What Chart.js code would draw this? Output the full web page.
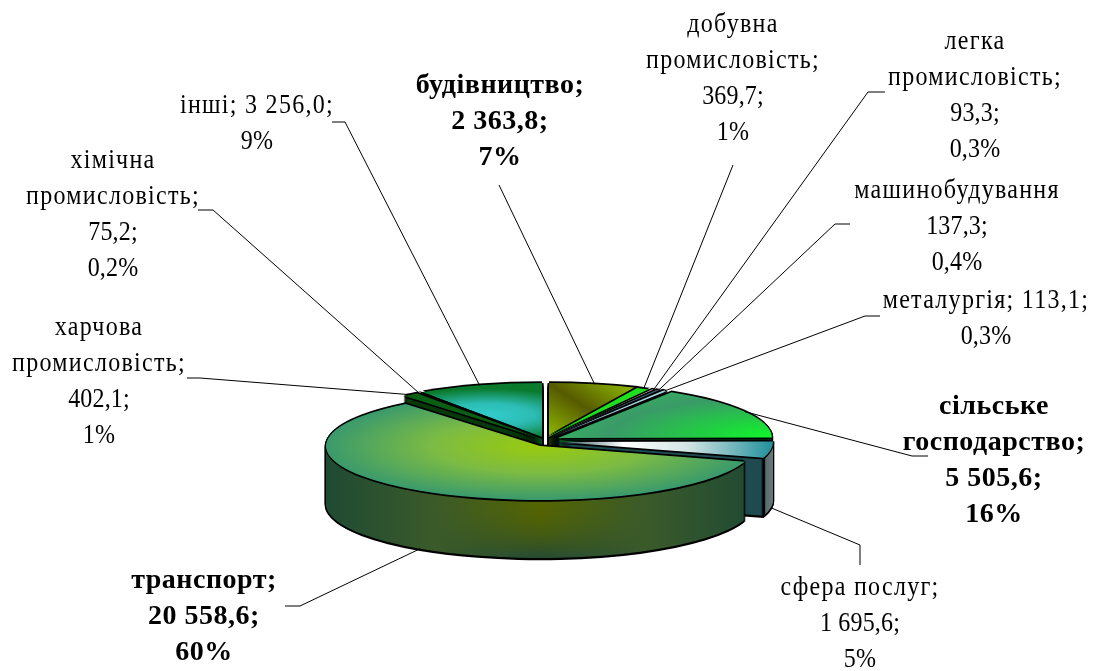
<!DOCTYPE html>
<html lang="uk">
<head>
    <meta charset="UTF-8">
    <title>Структура за галузями</title>
    <script src="https://cdn.jsdelivr.net/npm/chart.js"></script>
    <style>
        html, body { margin: 0; background: #fff; }
        #pie { display: block; }
    </style>
</head>
<body>
    <canvas id="pie" width="1097" height="671"></canvas>

    <script>
        // Data, clockwise from 12 o'clock
        const categories = ['будівництво', 'добувна промисловість', 'легка промисловість', 'машинобудування', 'металургія',
            'сільське господарство', 'сфера послуг', 'транспорт', 'харчова промисловість', 'хімічна промисловість', 'інші'];
        const values = [2363.8, 369.7, 93.3, 137.3, 113.1, 5505.6, 1695.6, 20558.6, 402.1, 75.2, 3256.0];
        const valueLabels = ['2 363,8', '369,7', '93,3', '137,3', '113,1', '5 505,6', '1 695,6', '20 558,6', '402,1', '75,2', '3 256,0'];
        const percentLabels = ['7%', '1%', '0,3%', '0,4%', '0,3%', '16%', '5%', '60%', '1%', '0,2%', '9%'];

        // How far each slice is pulled out of the pie, in screen px
        const explodeX = [9, 8, 10, 11, 13, 18, 19, 0, -1, 0, 2];
        const explodeY = [-9, -9, -9, -9, -9, -8, -4, 0, -8, -8, -9];
        const drawOrder = [10, 0, 9, 8, 1, 2, 3, 4, 5, 6, 7];

        const squash = 0.2523;   // ellipse height / width
        const depth = 58;        // wall height
        const lineStep = 36;

        // Label blocks: how the name wraps, centre x, first line y, elbow of the leader line
        const labelBlocks = [
            { name: ['будівництво;'], x: 500, y: 86, bold: true, from: [499, 185], elbow: null },
            { name: ['добувна', 'промисловість;'], x: 733, y: 25, from: [733, 165], elbow: null },
            { name: ['легка', 'промисловість;'], x: 975, y: 42, from: [885, 92], elbow: [868, 92] },
            { name: ['машинобудування'], x: 957, y: 191, from: [850, 224], elbow: [835, 224] },
            { name: ['металургія; 113,1;'], x: 986, y: 301, inline: true, from: [880, 316], elbow: [865, 316] },
            { name: ['сільське', 'господарство;'], x: 994, y: 407, bold: true, from: [928, 456], elbow: [912, 456] },
            { name: ['сфера послуг;'], x: 860, y: 588, from: [860, 565], elbow: [860, 545], wall: true },
            { name: ['транспорт;'], x: 204, y: 581, bold: true, from: [285, 606], elbow: [300, 606], wall: true },
            { name: ['харчова', 'промисловість;'], x: 99, y: 328, from: [187, 378], elbow: [200, 378] },
            { name: ['хімічна', 'промисловість;'], x: 113, y: 161, from: [198, 210], elbow: [213, 210] },
            { name: ['інші; 3 256,0;'], x: 257, y: 106, inline: true, from: [332, 122], elbow: [345, 122] }
        ];

        function linear(ctx, x0, y0, x1, y1, stops) {
            const g = ctx.createLinearGradient(x0, y0, x1, y1);
            stops.forEach(s => g.addColorStop(s[0], s[1]));
            return g;
        }

        function radial(ctx, x, y, r, stops) {
            const g = ctx.createRadialGradient(x, y, 0, x, y, r);
            stops.forEach(s => g.addColorStop(s[0], s[1]));
            return g;
        }

        // Top face fill of a slice, in the un-squashed circle coordinates
        function faceFill(ctx, i, cx, cy) {
            switch (i) {
                case 0: return linear(ctx, cx, cy, cx + 143, cy - 56, [[0, '#90ba00'], [0.5, '#565a00'], [1, '#90ba00']]);
                case 1: return '#1fe020';
                case 2: return '#f4ecc4';
                case 3: return '#3a5a70';
                case 4: return '#a4d4dc';
                case 5: return radial(ctx, cx + 214, cy, 250, [[0, '#0ff82a'], [0.3, '#22cc44'], [0.65, '#3a9a68'], [1, '#33b85c']]);
                case 6: return linear(ctx, cx, cy, cx + 214, cy, [[0, '#204a50'], [0.3, '#ffffff'], [0.6, '#d4e4e4'], [1, '#20909a']]);
                case 7: return radial(ctx, cx, cy, 214, [[0, '#9acb0c'], [0.5, '#7cbb44'], [1, '#3a9a6c']]);
                case 8: return '#0a6012';
                case 9: return '#0d4a12';
                default: return radial(ctx, cx - 55, cy - 87, 105, [[0, '#33cccc'], [0.45, '#2cbcb4'], [1, '#0a7a2c']]);
            }
        }

        // Side wall fill, t goes 0..1 from the top of the wall to the bottom
        function wallFill(ctx, i, cx, t) {
            switch (i) {
                case 6: return linear(ctx, cx + 202, 0, cx + 236, 0, [[0, '#1f4a50'], [0.06, '#000'], [0.1, '#000'], [0.14, '#5a6c6c'], [0.6, '#76888a'], [1, '#4a5a5c']]);
                case 7: {
                    const r = Math.round(0x55 - t * t * 0x30);
                    const g = Math.round(0x64 - t * t * 0x1a);
                    const b = Math.round(t * t * 0x33);
                    const mid = 'rgb(' + r + ',' + g + ',' + b + ')';
                    return linear(ctx, cx - 214, 0, cx + 214, 0, [[0, '#1f4a33'], [0.25, '#3a5a2a'], [0.5, mid], [0.75, '#3a5a2a'], [1, '#1f4a33']]);
                }
                case 0: return '#3c4400';
                case 3: case 4: return '#300040';
                case 5: return '#0c5a20';
                case 8: case 9: return '#083a0c';
                case 10: return '#064a18';
                default: return '#0a3a10';
            }
        }

        function drawArc(ctx, arc, fill, dx, dy) {
            const saved = arc.options;
            arc.options = Object.assign({}, saved, { backgroundColor: fill, borderWidth: 0 });
            ctx.save();
            ctx.translate(dx, dy + arc.y);
            ctx.scale(1, squash);
            ctx.translate(0, -arc.y);
            arc.draw(ctx);
            ctx.restore();
            arc.options = saved;
        }

        const pie3d = {
            id: 'pie3d',
            beforeDatasetDraw(chart, args) {
                const ctx = chart.ctx;
                const arcs = args.meta.data;
                drawOrder.forEach(i => {
                    const arc = arcs[i];
                    const dx = explodeX[i], dy = explodeY[i];
                    // black outline of the wall
                    for (let d = depth + 1; d >= 0; d--) {
                        drawArc(ctx, arc, '#000', dx - 1.3, dy + d);
                        drawArc(ctx, arc, '#000', dx + 1.3, dy + d);
                    }
                    drawArc(ctx, arc, '#000', dx, dy + depth + 2.2);
                    // wall
                    for (let d = depth; d >= 1; d--) {
                        drawArc(ctx, arc, wallFill(ctx, i, arc.x, d / depth), dx, dy + d);
                    }
                    // outline and top face
                    drawArc(ctx, arc, '#000', dx, dy - 1.8);
                    drawArc(ctx, arc, '#000', dx, dy + 1.8);
                    drawArc(ctx, arc, '#000', dx - 1.3, dy);
                    drawArc(ctx, arc, '#000', dx + 1.3, dy);
                    drawArc(ctx, arc, faceFill(ctx, i, arc.x, arc.y), dx, dy);
                });
                return false;   // slices are done, skip the default draw
            },
            afterDraw(chart) {
                const ctx = chart.ctx;
                const arcs = chart.getDatasetMeta(0).data;
                labelBlocks.forEach((b, i) => {
                    // leader line ends on the rim, at the middle of the slice
                    const arc = arcs[i];
                    const mid = (arc.startAngle + arc.endAngle) / 2;
                    const rimX = arc.x + Math.cos(mid) * arc.outerRadius + explodeX[i];
                    const rimY = arc.y + Math.sin(mid) * arc.outerRadius * squash + explodeY[i] + (b.wall ? depth : 0);
                    ctx.strokeStyle = '#000';
                    ctx.lineWidth = 1;
                    ctx.beginPath();
                    ctx.moveTo(b.from[0], b.from[1]);
                    if (b.elbow) ctx.lineTo(b.elbow[0], b.elbow[1]);
                    ctx.lineTo(rimX, rimY);
                    ctx.stroke();

                    const lines = b.name.slice();
                    if (!b.inline) lines.push(valueLabels[i] + ';');
                    lines.push(percentLabels[i]);

                    lines.forEach((line, n) => {
                        const hasLetters = /[а-яі]/i.test(line);
                        ctx.save();
                        ctx.fillStyle = '#000';
                        ctx.textAlign = 'center';
                        ctx.textBaseline = 'middle';
                        ctx.font = (b.bold ? 'bold ' : '') + '28px "Liberation Serif"';
                        ctx.letterSpacing = b.bold ? '0.5px' : (hasLetters ? '1.5px' : '0.2px');
                        ctx.translate(b.x, b.y + n * lineStep);
                        // the reference text is narrower than it is tall
                        ctx.scale(b.bold ? 1 : 0.857, 1);
                        ctx.fillText(line, 0, 0);
                        ctx.restore();
                    });
                });
            }
        };

        window.onload = function() {
            new Chart(document.getElementById('pie').getContext('2d'), {
                type: 'pie',
                data: {
                    labels: categories,
                    datasets: [{ data: values, borderWidth: 0, offset: 0, backgroundColor: '#3a9a6c' }]
                },
                options: {
                    responsive: false,
                    animation: false,
                    radius: 214,
                    layout: { padding: { top: 221, right: 17 } },
                    plugins: { legend: { display: false }, tooltip: { enabled: false } }
                },
                plugins: [pie3d]
            });
        };
    </script>
</body>
</html>
